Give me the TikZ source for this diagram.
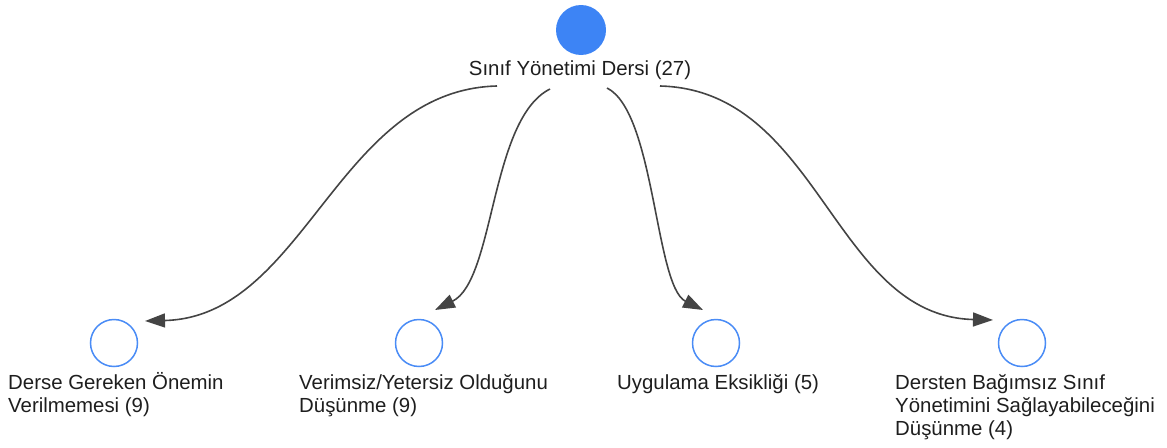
\documentclass[tikz,border=0pt]{standalone}
\usepackage{fontspec}
\setmainfont{Liberation Sans}
\usetikzlibrary{arrows.meta,calc}
\definecolor{nodeblue}{HTML}{3D84F5}
\definecolor{ringblue}{HTML}{4A8CF6}
\definecolor{edgegray}{HTML}{444444}
\definecolor{textgray}{HTML}{1E1E1E}
\begin{document}
\begin{tikzpicture}[x=1pt,y=-1pt,
  rootnode/.style={circle,fill=nodeblue,draw=none,minimum size=50pt,inner sep=0pt},
  leafnode/.style={circle,draw=ringblue,line width=1.5pt,fill=white,minimum size=47pt,inner sep=0pt},
  lbl/.style={font=\fontsize{20.4pt}{23pt}\selectfont,text=textgray,inner sep=0pt},
  leaflbl/.style={lbl,align=left,anchor=base west},
  arr/.style={draw=edgegray,line width=1.6pt,-{Triangle[length=20pt,width=14pt]}}]
\useasboundingbox (0,0) rectangle (1167,447);
\node[rootnode] (root) at (581,30) {};
\node[lbl,anchor=base] (rootlbl) at (580,75) {Sınıf Yönetimi Dersi (27)};

\node[leafnode] (c1) at (114,343) {};
\node[leafnode] (c2) at (419,343) {};
\node[leafnode] (c3) at (716,343) {};
\node[leafnode] (c4) at (1022,343) {};

% anchor base = baseline of the last line
\node[leaflbl] (l1) at (8,412) {Derse Gereken Önemin\\Verilmemesi (9)};
\node[leaflbl] (l2) at (299,412) {Verimsiz/Yetersiz Olduğunu\\Düşünme (9)};
\node[leaflbl] (l3) at (617,389) {Uygulama Eksikliği (5)};
\node[leaflbl] (l4) at (895,435) {Dersten Bağımsız Sınıf\\Yönetimini Sağlayabileceğini\\Düşünme (4)};

% start points below the root label, end points near each leaf
\coordinate (s1) at ($(rootlbl.base)+(-83,11)$);
\coordinate (s2) at ($(rootlbl.base)+(-30,14)$);
\coordinate (s3) at ($(rootlbl.base)+(27,13)$);
\coordinate (s4) at ($(rootlbl.base)+(80,11)$);
\coordinate (t1) at ($(c1)+(31,-22)$);
\coordinate (t2) at ($(c2)+(16,-33)$);
\coordinate (t3) at ($(c3)+(-13,-33)$);
\coordinate (t4) at ($(c4)+(-29,-23)$);

\draw[arr] (s1) .. controls (337,90) and (305,317) .. (t1);
\draw[arr] (s2) .. controls (490,119) and (495,280) .. (t2);
\draw[arr] (s3) .. controls (655,112) and (655,286) .. (t3);
\draw[arr] (s4) .. controls (820,90) and (833,316) .. (t4);
\end{tikzpicture}
\end{document}
